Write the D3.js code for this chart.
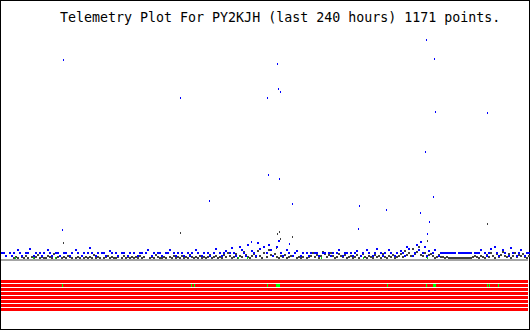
<!DOCTYPE html>
<html>
<head>
<meta charset="utf-8">
<script src="https://cdn.jsdelivr.net/npm/d3@7"></script>
<style>
  html, body { margin: 0; padding: 0; background: #fff; }
  svg { display: block; }
</style>
</head>
<body>
<div id="telemetry_plot"></div>
<script>
  // Chart text
  var titleText = "Telemetry Plot For PY2KJH (last 240 hours) 1171 points.";

  // Dense low-level samples (value above baseline), evenly spaced over 240 hours; 0 = no sample
  var blueBand = [
    6,6,3,0,6,3,6,0,9,6,3,0,6,6,10,0,3,6,0,6,3,6,
    0,9,6,3,0,6,6,3,0,6,6,0,3,6,0,9,6,0,3,6,0,6,
    11,6,0,3,6,0,6,6,3,0,8,6,0,6,3,0,6,6,0,3,6,0,
    6,0,3,6,6,0,6,9,0,3,6,0,6,6,3,0,6,6,9,0,6,3,
    6,0,6,3,0,6,3,6,0,9,6,0,3,6,0,6,3,0,6,10,0,6,
    3,6,8,0,6,11,6,3,0,12,9,6,3,14,0,8,6,3,16,10,0,12,
    6,14,9,3,0,12,18,6,3,0,9,6,0,3,6,8,0,3,6,0,6,3,
    6,0,6,6,3,0,6,6,0,6,3,6,0,6,9,0,3,6,6,0,6,3,
    6,8,0,3,6,0,9,6,0,3,6,10,0,6,3,6,0,9,6,0,3,6,
    0,8,6,3,12,10,0,3,6,14,9,17,6,12,3,8,0,6,9,0,3,6,
    6,6,6,6,6,6,6,0,6,6,6,6,6,6,6,0,6,6,6,9,0,6,
    3,6,10,0,12,6,3,0,9,6,0,3,11,6,0,3,6,9,0,3,6,6
  ];

  // 0 = no sample
  var darkBand = [
    0,0,0,0,0,0,1,2,1,0,2,1,3,1,0,2,1,2,4,1,2,1,
    1,3,2,1,5,1,2,0,1,2,1,3,2,1,0,1,2,1,3,1,2,1,
    2,1,4,1,2,1,0,1,2,3,1,2,1,1,2,0,1,3,1,2,1,2,
    1,2,1,3,1,2,0,0,1,2,1,4,2,1,1,2,1,0,2,1,3,1,
    2,1,3,1,2,1,4,2,1,2,1,3,1,2,1,2,4,1,2,3,1,2,
    1,4,2,6,3,1,2,5,1,3,2,7,4,2,1,3,5,2,8,3,1,6,
    2,9,4,3,5,2,1,3,2,4,1,2,3,0,0,1,2,1,2,0,1,2,
    3,6,2,4,1,3,7,5,2,4,6,3,1,2,5,3,2,4,1,2,3,1,
    2,4,1,3,5,2,1,3,2,1,4,2,3,1,5,2,1,3,2,4,1,2,
    3,5,2,8,4,6,3,10,5,7,12,4,3,6,2,4,5,3,1,2,4,2,
    2,1,2,1,1,1,1,1,1,1,1,1,1,1,1,2,3,2,1,3,2,1,
    4,2,6,3,1,5,2,4,7,3,2,5,1,3,6,2,4,3,5,2,1,3
  ];

  // Isolated high readings [hour, value]
  var blueSpikes = [
    [28.2, 199], [27.8, 29], [81.5, 161], [94.7, 58], [121.1, 161],
    [125.7, 195], [126.1, 170], [127.1, 167], [121.6, 84], [126.6, 80],
    [132.5, 55], [163.0, 53], [162.6, 30], [175.3, 49], [190.8, 46],
    [193.5, 219], [193.1, 107], [194.9, 37], [194.0, 25], [196.7, 62],
    [197.2, 200], [197.6, 147], [221.3, 146], [113.8, 17], [131.0, 15]
  ];
  var darkSpikes = [
    [81.5, 26], [125.7, 25], [126.6, 27], [127.1, 20], [132.5, 22],
    [221.3, 35], [28.2, 16], [125.3, 11], [193.8, 18]
  ];

  // Green readings sitting on the baseline
  var greenHours = [6.4, 14.6, 24.6, 107.9, 112.0, 145.7, 164.9, 194.0];

  // Status bits: 8 channels, hours where channel 1 is set
  var bitChannels = [0, 1, 2, 3, 4, 5, 6, 7];
  var bitSetHours = [27.8, 86.5, 87.9, 121.1, 125.2, 125.7, 126.1, 126.6,
                     175.8, 193.5, 196.7, 197.2, 197.6, 221.3, 222.2, 226.3];
  var bitSetChannel = 1;

  // Layout
  var width = 530, height = 330;

  var svg = d3.select("#telemetry_plot")
              .append("svg")
              .attr("width", width)
              .attr("height", height)
              .attr("shape-rendering", "crispEdges");

  var xScale = d3.scaleLinear().domain([0, 240]).range([1, 528]);
  var yScale = d3.scaleLinear().domain([0, 224]).range([259, 35]);
  var bitScale = d3.scaleBand().domain(bitChannels).range([280, 311]).paddingInner(0.25);

  var bandStep = 240 / (blueBand.length - 1);

  // Frame
  svg.append("rect")
     .attr("x", 0.5).attr("y", 0.5)
     .attr("width", width - 1).attr("height", height - 1)
     .attr("fill", "#fff")
     .attr("stroke", "#000");

  // Title
  svg.append("text")
     .attr("x", 60)
     .attr("y", 22)
     .attr("font-family", "DejaVu Sans Mono, monospace")
     .attr("font-size", "13.3px")
     .attr("fill", "#000")
     .text(titleText);

  // Baseline
  svg.append("rect")
     .attr("x", xScale(0)).attr("y", yScale(0))
     .attr("width", xScale(240) - xScale(0)).attr("height", 2)
     .attr("fill", "#a4a4a4");

  function drawMarks(data, color, w) {
    svg.append("g")
       .selectAll("rect")
       .data(data)
       .enter()
       .append("rect")
       .attr("x", function(d) { return Math.round(xScale(d[0])); })
       .attr("y", function(d) { return Math.round(yScale(d[1])) - 1; })
       .attr("width", w)
       .attr("height", 2)
       .attr("fill", color);
  }

  function bandPoints(values) {
    return values.map(function(v, i) { return [i * bandStep, v]; })
                 .filter(function(d) { return d[1] > 0; });
  }

  drawMarks(bandPoints(darkBand), "#404040", 2);
  drawMarks(darkSpikes, "#404040", 1);
  drawMarks(bandPoints(blueBand), "#0000ff", 2);
  drawMarks(blueSpikes, "#0000ff", 1);
  drawMarks(greenHours.map(function(h) { return [h, 1]; }), "#00dd00", 1);

  // Status bit rows
  svg.append("g")
     .selectAll("rect")
     .data(bitChannels)
     .enter()
     .append("rect")
     .attr("x", xScale(0))
     .attr("y", function(d) { return bitScale(d); })
     .attr("width", xScale(240) - xScale(0))
     .attr("height", bitScale.bandwidth())
     .attr("fill", "#ff0000");

  svg.append("g")
     .selectAll("rect")
     .data(bitSetHours)
     .enter()
     .append("rect")
     .attr("x", function(d) { return Math.round(xScale(d)); })
     .attr("y", bitScale(bitSetChannel))
     .attr("width", 1)
     .attr("height", bitScale.bandwidth())
     .attr("fill", "#00ff00");
</script>
</body>
</html>
